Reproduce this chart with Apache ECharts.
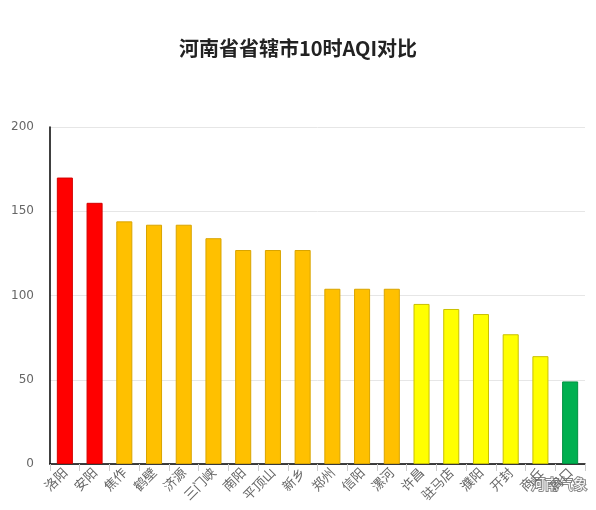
<!DOCTYPE html>
<html>
<head>
<meta charset="utf-8">
<script src="https://cdn.jsdelivr.net/npm/echarts@6/dist/echarts.min.js"></script>
<style>
  html, body { margin: 0; padding: 0; background: #fff; }
  #chart { width: 596px; height: 510px; }
</style>
</head>
<body>
<div id="chart"></div>
<script>
// 城市 & AQI
const cities = ['洛阳', '安阳', '焦作', '鹤壁', '济源', '三门峡', '南阳', '平顶山', '新乡',
  '郑州', '信阳', '漯河', '许昌', '驻马店', '濮阳', '开封', '商丘', '周口'];
const aqi = [170, 155, 144, 142, 142, 134, 127, 127, 127, 104, 104, 104, 95, 92, 89, 77, 64, 49];
const yTicks = [0, 50, 100, 150, 200];

// 按AQI等级取色
const levelColor = v => {
  if (v > 150) return { fill: '#ff0000', border: '#d40000' };
  if (v > 100) return { fill: '#ffc000', border: '#d9a400' };
  if (v > 50) return { fill: '#ffff00', border: '#c9c000' };
  return { fill: '#00b050', border: '#009040' };
};

const chart = echarts.init(document.getElementById('chart'));

const option = {
  backgroundColor: '#fff',
  animation: false,
  title: {
    text: '河南省省辖市10时AQI对比',
    left: 'center',
    top: 33,
    textStyle: {
      fontFamily: 'Noto Sans CJK SC',
      fontSize: 20,
      fontWeight: 'bold',
      color: '#222'
    }
  },
  grid: {
    left: 50,
    right: 11,
    top: 127,
    bottom: 46
  },
  xAxis: {
    type: 'category',
    data: cities,
    axisLine: { lineStyle: { color: '#000', width: 1.5 } },
    axisTick: { show: true, length: 7, lineStyle: { color: '#ccc' } },
    axisLabel: {
      rotate: 45,
      interval: 0,
      color: '#666',
      fontSize: 13,
      fontFamily: 'Noto Sans CJK SC',
      margin: 6
    }
  },
  yAxis: {
    type: 'value',
    min: yTicks[0],
    max: yTicks[yTicks.length - 1],
    interval: 50,
    axisLine: { show: true, lineStyle: { color: '#000', width: 1.5 } },
    axisTick: { show: false },
    axisLabel: { color: '#666', fontSize: 12, margin: 16, fontFamily: 'DejaVu Sans' },
    splitLine: { lineStyle: { color: '#e6e6e6' } }
  },
  series: [{
    type: 'bar',
    barWidth: '54%',
    data: aqi.map(v => ({
      value: v,
      itemStyle: {
        color: levelColor(v).fill,
        borderColor: levelColor(v).border,
        borderWidth: 1
      }
    }))
  }],
  graphic: [{
    type: 'text',
    right: 8,
    bottom: 18,
    style: {
      text: '河南气象',
      fontSize: 14,
      fontFamily: 'Noto Sans CJK SC',
      fill: '#fff',
      stroke: '#888',
      lineWidth: 2
    }
  }]
};

chart.setOption(option);
</script>
</body>
</html>
